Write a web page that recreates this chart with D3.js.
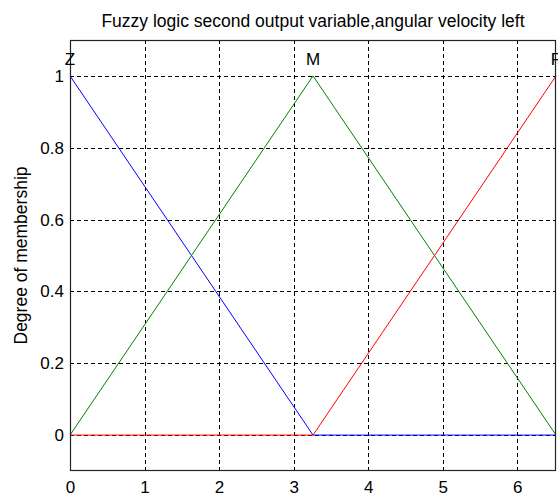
<!DOCTYPE html>
<html><head><meta charset="utf-8">
<script src="https://cdn.jsdelivr.net/npm/d3@7"></script>
<style>body{margin:0;background:#fff}svg{display:block}</style>
</head><body>
<script>
const xTicks = [0,1,2,3,4,5,6];
const yTicks = [0,0.2,0.4,0.6,0.8,1];
const yTickLabels = ["0","0.2","0.4","0.6","0.8","1"];
const mfNames = ["Z","M","F"];
const mfColors = ["#0000ff","#008000","#ff0000"];
const xMin = 0, xMax = 6.52;
const zPoints = [[0,1],[3.26,0],[6.52,0]];
const mPoints = [[0,0],[3.26,1],[6.52,0]];
const fPoints = [[0,0],[3.26,0],[6.52,1]];
const mfPeaks = [0,3.26,6.52];
const title = "Fuzzy logic second output variable,angular velocity left";
const yLabel = "Degree of membership";

const W=558,H=498;
const m={l:70,r:2,t:40,b:27};
const svg=d3.select("body").append("svg").attr("width",W).attr("height",H);
const x=d3.scaleLinear().domain([xMin,xMax]).range([m.l,W-m.r]);
const y=d3.scaleLinear().domain([-0.1,1.1]).range([H-m.b,m.t]);
const font="Arial, 'Liberation Sans', sans-serif";

// grid
const g=svg.append("g");
g.selectAll(".vg").data(xTicks.filter(d=>d>xMin)).enter().append("line")
 .attr("x1",d=>Math.round(x(d))+0.5).attr("x2",d=>Math.round(x(d))+0.5)
 .attr("y1",m.t).attr("y2",H-m.b).attr("stroke","#000").attr("stroke-dasharray","4,3").attr("stroke-width",1);
g.selectAll(".hg").data(yTicks).enter().append("line")
 .attr("y1",d=>Math.round(y(d))+0.5).attr("y2",d=>Math.round(y(d))+0.5)
 .attr("x1",m.l).attr("x2",W-m.r).attr("stroke","#000").attr("stroke-dasharray","4,3").attr("stroke-width",1);

// lines
const line=d3.line().x(d=>x(d[0])).y(d=>y(d[1]));
[zPoints,mPoints,fPoints].forEach((pts,i)=>{
  svg.append("path").attr("d",line(pts)).attr("fill","none").attr("stroke",mfColors[i]).attr("stroke-width",1);
});

// box
svg.append("rect").attr("x",m.l+0.5).attr("y",m.t+0.5).attr("width",W-m.r-m.l-1).attr("height",H-m.b-m.t-1)
 .attr("fill","none").attr("stroke","#222").attr("stroke-width",1.2);

// axes
const xa=svg.append("g").attr("transform",`translate(0,${H-m.b})`)
 .call(d3.axisBottom(x).tickValues(xTicks).tickFormat(d3.format("d")).tickSize(0).tickPadding(10));
xa.select(".domain").remove();
xa.selectAll("text").attr("font-family",font).attr("font-size",17).attr("fill","#000");
const ya=svg.append("g").attr("transform",`translate(${m.l},0)`)
 .call(d3.axisLeft(y).tickValues(yTicks).tickFormat((d,i)=>yTickLabels[i]).tickSize(0).tickPadding(6));
ya.select(".domain").remove();
ya.selectAll("text").attr("font-family",font).attr("font-size",17).attr("fill","#000");

// mf names
svg.selectAll(".mf").data(mfNames).enter().append("text")
 .attr("x",(d,i)=>x(mfPeaks[i])).attr("y",m.t+25).attr("text-anchor","middle")
 .attr("font-family",font).attr("font-size",17).attr("fill","#000").text(d=>d);

svg.append("text").attr("x",(m.l+W-m.r)/2).attr("y",27).attr("text-anchor","middle")
 .attr("font-family",font).attr("font-size",17.5).attr("fill","#000").text(title);
svg.append("text").attr("transform",`translate(27,${(m.t+H-m.b)/2}) rotate(-90)`).attr("text-anchor","middle")
 .attr("font-family",font).attr("font-size",17.5).attr("fill","#000").text(yLabel);
</script>
</body></html>
